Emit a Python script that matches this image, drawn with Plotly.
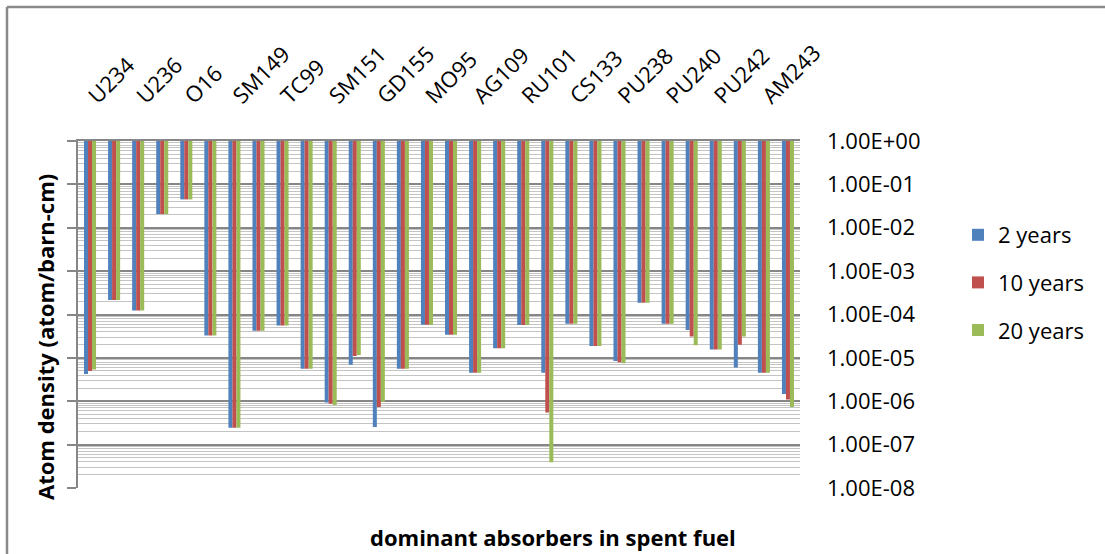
import plotly.graph_objects as go

# Nuclides whose names appear on the category axis (every second position)
labels = ["U234", "U236", "O16", "SM149", "TC99", "SM151", "GD155", "MO95",
          "AG109", "RU101", "CS133", "PU238", "PU240", "PU242", "AM243"]

# Atom densities (atom/barn-cm) for the 30 nuclide positions
dens_2y = [4.26e-6, 2.16e-4, 1.23e-4, 2.07e-2, 4.5e-2, 3.3e-5, 2.45e-7, 4.2e-5,
           5.6e-5, 5.6e-6, 9.3e-7, 6.9e-6, 2.56e-7, 5.6e-6, 5.8e-5, 3.4e-5,
           4.55e-6, 1.66e-5, 5.7e-5, 4.55e-6, 6.1e-5, 1.87e-5, 8.5e-6, 1.87e-4,
           6.1e-5, 4.4e-5, 1.55e-5, 6.0e-6, 4.55e-6, 1.47e-6]
dens_10y = [5.0e-6, 2.16e-4, 1.23e-4, 2.07e-2, 4.5e-2, 3.3e-5, 2.45e-7, 4.2e-5,
            5.6e-5, 5.6e-6, 8.8e-7, 1.1e-5, 7.4e-7, 5.6e-6, 5.8e-5, 3.4e-5,
            4.55e-6, 1.66e-5, 5.7e-5, 5.5e-7, 6.1e-5, 1.87e-5, 7.9e-6, 1.87e-4,
            6.1e-5, 3.1e-5, 1.55e-5, 2.0e-5, 4.55e-6, 1.1e-6]
dens_20y = [5.4e-6, 2.16e-4, 1.23e-4, 2.07e-2, 4.5e-2, 3.3e-5, 2.45e-7, 4.2e-5,
            5.6e-5, 5.6e-6, 8.2e-7, 1.17e-5, 9.8e-7, 5.6e-6, 5.8e-5, 3.4e-5,
            4.55e-6, 1.66e-5, 5.7e-5, 3.9e-8, 6.1e-5, 1.87e-5, 7.5e-6, 1.87e-4,
            6.1e-5, 1.95e-5, 1.55e-5, 3.1e-5, 4.55e-6, 7.4e-7]

series_names = ["2 years", "10 years", "20 years"]
series_colors = ["#4F81BD", "#C0504D", "#9BBB59"]

y_tickvals = [1e0, 1e-1, 1e-2, 1e-3, 1e-4, 1e-5, 1e-6, 1e-7, 1e-8]
y_ticktext = ["1.00E+00", "1.00E-01", "1.00E-02", "1.00E-03", "1.00E-04",
              "1.00E-05", "1.00E-06", "1.00E-07", "1.00E-08"]

FONT = "Open Sans"
FSIZE = 22
GRID_MAJOR = "#868686"
GRID_MINOR = "#c4c4c4"

positions = list(range(len(dens_2y)))

fig = go.Figure()
for name, color, vals in zip(series_names, series_colors, [dens_2y, dens_10y, dens_20y]):
    # bars hang from the 1.0 baseline down to each density
    fig.add_trace(go.Bar(
        x=positions, y=[v - 1.0 for v in vals], base=1.0,
        name=name, marker=dict(color=color, line=dict(width=0)),
        legendgroup=name,
    ))

# transparent companion trace so the right-hand label axis is rendered
fig.add_trace(go.Scatter(
    x=positions, y=dens_2y, yaxis="y2", mode="markers",
    marker=dict(opacity=0), showlegend=False, hoverinfo="skip",
))

# plot area in pixels
W, H = 1105, 554
L, R, T, B = 78, 800, 141, 488

def px_x(p):
    return (p - L) / (R - L)

def px_y(p):
    return (B - p) / (B - T)

BORDER = dict(color="#8a8a8a", width=2.5)

fig.update_layout(
    width=W, height=H,
    margin=dict(l=L, r=W - R, t=T, b=H - B),
    paper_bgcolor="white", plot_bgcolor="white",
    font=dict(family=FONT, size=FSIZE, color="black"),
    barmode="group", bargap=0.5, bargroupgap=0,
    showlegend=True,
    legend=dict(xref="container", yref="container",
                x=958 / W, y=1 - 214 / H, xanchor="left", yanchor="top",
                font=dict(family=FONT, size=FSIZE), tracegroupgap=16,
                bgcolor="rgba(0,0,0,0)"),
    xaxis=dict(
        side="top", range=[-0.5, len(positions) - 0.5],
        tickmode="array", tickvals=positions[::2], ticktext=labels,
        tickangle=-45, ticks="", showgrid=False, zeroline=False,
        showline=True, linecolor=GRID_MAJOR, linewidth=2,
        tickfont=dict(family=FONT, size=FSIZE), ticklabelstandoff=22,
    ),
    yaxis=dict(
        type="log", range=[-8, 0],
        tickmode="array", tickvals=y_tickvals, showticklabels=False,
        ticks="outside", ticklen=9, tickcolor=GRID_MAJOR, tickwidth=2,
        showline=True, linecolor=GRID_MAJOR, linewidth=2,
        showgrid=True, gridcolor=GRID_MAJOR, gridwidth=1.5,
        minor=dict(dtick="D1", showgrid=True, gridcolor=GRID_MINOR, gridwidth=1, ticks=""),
        zeroline=False,
    ),
    yaxis2=dict(
        type="log", range=[-8, 0], overlaying="y", side="right", anchor="x",
        tickmode="array", tickvals=y_tickvals, ticktext=y_ticktext,
        showline=False, showgrid=False, zeroline=False, ticks="",
        ticklabelstandoff=26, tickfont=dict(family=FONT, size=FSIZE),
    ),
    # chart-area frame (left and top edges fall inside the page)
    shapes=[
        dict(type="line", xref="paper", yref="paper",
             x0=px_x(7), x1=px_x(7), y0=px_y(560), y1=px_y(7), line=BORDER),
        dict(type="line", xref="paper", yref="paper",
             x0=px_x(7), x1=px_x(1110), y0=px_y(7), y1=px_y(7), line=BORDER),
    ],
    annotations=[
        dict(text="<b>Atom density (atom/barn-cm)</b>", textangle=-90,
             xref="paper", yref="paper", x=px_x(45), y=px_y(337),
             showarrow=False, xanchor="center", yanchor="middle",
             font=dict(family=FONT, size=FSIZE)),
        dict(text="<b>dominant absorbers in spent fuel</b>",
             xref="paper", yref="paper", x=px_x(553), y=px_y(537),
             showarrow=False, xanchor="center", yanchor="middle",
             font=dict(family=FONT, size=FSIZE)),
    ],
)

fig.write_html("out.html", config={"displayModeBar": False})
